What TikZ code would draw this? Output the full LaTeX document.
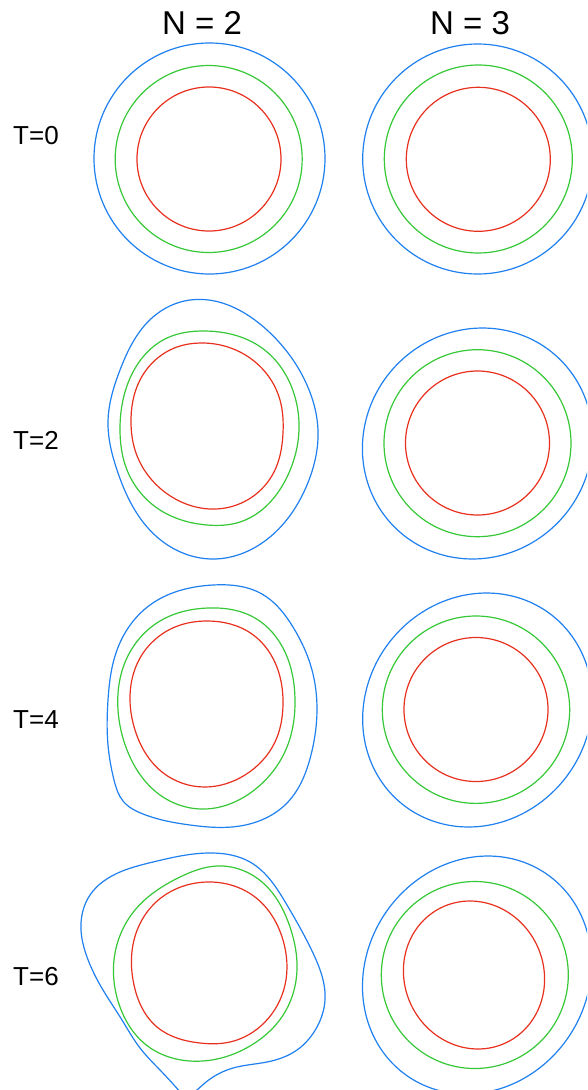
\documentclass[tikz,border=0pt]{standalone}
\usepackage{fontspec}
\setmainfont{Liberation Sans}
\usetikzlibrary{hobby}
\definecolor{outerblue}{HTML}{1F80F0}
\definecolor{midgreen}{HTML}{36C836}
\definecolor{innerred}{HTML}{E8301E}
% slanted closed contour: centre, half widths, top offset
\newcommand{\slantloop}[7]{%
  \draw[#1] plot[smooth cycle,domain=0:354,samples=60]
    ({#2+#4*cos(\x)-#6*sin(\x)},{#3+#5*sin(\x)+#7*cos(2*\x)});}
\begin{document}
\begin{tikzpicture}[x=1pt,y=-1pt,
  outer/.style={draw=outerblue,line width=1.2pt},
  mid/.style={draw=midgreen,line width=1.2pt},
  inner/.style={draw=innerred,line width=1.2pt},
  rowlabel/.style={font=\fontsize{26}{30}\selectfont,inner sep=0pt},
  collabel/.style={font=\fontsize{33}{38}\selectfont,inner sep=0pt}]
\useasboundingbox (0,0) rectangle (587,1090);
\fill[white] (0,0) rectangle (587,1090);
\clip (0,0) rectangle (587,1090);

% column and row headings
\node[collabel] (n2) at (202,23) {N = 2};
\node[collabel] (n3) at (470,23) {N = 3};
\node[rowlabel] (t0) at (36,136) {T=0};
\node[rowlabel] (t2) at (36,440) {T=2};
\node[rowlabel] (t4) at (36,720) {T=4};
\node[rowlabel] (t6) at (36,977) {T=6};

% ---- T = 0 ----
\draw[outer] (209.5,158.5) circle[radius=115.5pt];
\draw[mid]   (208.7,159) circle[radius=93.5pt];
\draw[inner] (209,159) circle[radius=72pt];
\draw[outer] (477.7,159) circle[radius=115pt];
\draw[mid]   (478.3,159) circle[radius=94pt];
\draw[inner] (478.3,159.3) circle[radius=72pt];

% ---- T = 2, N = 2 ----
\draw[outer] plot[closed hobby] coordinates {
  (190,300) (267,330) (307,385) (318,430) (307,485)
  (270,537) (213,559) (157,537) (117,470) (108,422) (120,370) (153,317)};
\draw[mid] plot[closed hobby] coordinates {
  (203,331) (262,348) (295,397) (299,430) (288,475)
  (240,522) (207,525) (160,510) (127,470) (120,430) (128,383) (167,338)};
\draw[inner] plot[closed hobby] coordinates {
  (200,343) (250,358) (280,400) (283,433) (274,472)
  (230,507) (210,509) (166,493) (135,450) (131,423) (140,380) (177,347)};

% ---- T = 2, N = 3 ----
\slantloop{outer}{477.5}{443.5}{115}{115.5}{5}{0}
\draw[mid]   (477.5,443.2) circle[radius=93.5pt];
\draw[inner] (477.5,443) circle[radius=72pt];

% ---- T = 4, N = 2 ----
\draw[outer] plot[closed hobby] coordinates {
  (213,585) (262,594) (293,627) (312,670) (317,710) (311,755)
  (287,803) (240,826) (190,825) (143,814) (123,801) (114,780)
  (108,745) (108,700) (117,650) (150,605)};
\draw[mid] plot[closed hobby] coordinates {
  (208,608) (255,618) (285,652) (295,700) (287,747)
  (258,787) (205,809) (160,795) (127,750) (118,710) (126,660) (160,621)};
\draw[inner] plot[closed hobby] coordinates {
  (208,621) (252,634) (278,670) (283,705) (275,742)
  (245,775) (205,787) (162,772) (135,730) (130,700) (140,658) (175,627)};

% ---- T = 4, N = 3 ----
\slantloop{outer}{477.5}{710}{114.5}{117}{9}{0}
\draw[mid]   (476,709.7) circle[radius=93.7pt];
\draw[inner] (476,709.5) circle[radius=72pt];

% ---- T = 6, N = 2 ----
% the outer contour leaves the frame at the bottom: both ends lie below it
\draw[outer] plot[hobby] coordinates {
  (187,1100) (160,1070) (140,1048) (122,1020) (103,990) (87,957) (81,930)
  (90,895) (120,872) (153,862) (213,853) (250,862) (287,905)
  (313,953) (325,1000) (317,1027) (297,1050) (267,1062) (233,1068)
  (213,1077) (197,1090) (186,1101)};
\draw[mid] plot[closed hobby] coordinates {
  (217,866) (262,882) (290,927) (297,963) (285,1012)
  (250,1046) (190,1061) (145,1044) (120,1007) (114,960) (135,910) (180,877)};
\draw[inner] plot[closed hobby] coordinates {
  (207,882) (255,897) (283,940) (285,985) (265,1022)
  (230,1042) (200,1043) (157,1027) (134,985) (134,940) (155,903)};

% ---- T = 6, N = 3 ----
\slantloop{outer}{477}{975}{114}{119}{11}{0}
\draw[mid] (474.8,975) circle[radius=93.5pt];
\slantloop{inner}{474}{975}{70.5}{74}{-4}{0}
\end{tikzpicture}
\end{document}
